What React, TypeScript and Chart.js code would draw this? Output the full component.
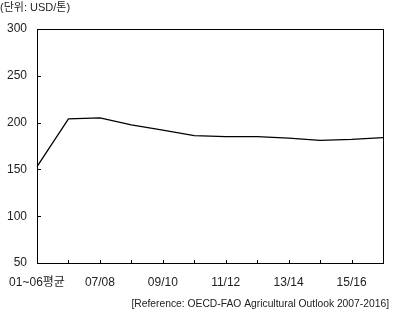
import React, { useEffect, useRef } from "react";
import { Chart, registerables } from "chart.js";

Chart.register(...registerables);

const categories = [
  "01~06평균", "06/07", "07/08", "08/09", "09/10", "10/11",
  "11/12", "12/13", "13/14", "14/15", "15/16", "16/17",
];
const priceValues = [153, 204, 205, 197.5, 192, 186, 185, 185, 183.5, 181, 182, 184];
const yTicks = [50, 100, 150, 200, 250, 300];
const unitLabel = "(단위: USD/톤)";
const sourceLabel = "[Reference: OECD-FAO Agricultural Outlook 2007-2016]";

const FONT = "'Liberation Sans', 'Noto Sans CJK KR', sans-serif";

export default function App() {
  const ref = useRef<HTMLCanvasElement | null>(null);

  useEffect(() => {
    if (!ref.current) return;
    const framePlugin = {
      id: "frame",
      afterDraw(chart: any) {
        const { ctx, chartArea } = chart;
        const { left, right, top, bottom } = chartArea;
        ctx.save();
        ctx.strokeStyle = "#000";
        ctx.lineWidth = 1;
        ctx.strokeRect(Math.round(left) + 0.5, Math.round(top) + 0.5, Math.round(right - left), Math.round(bottom - top));
        const xs = chart.scales.x;
        ctx.beginPath();
        for (let i = 0; i < xs.ticks.length; i++) {
          const px = Math.round(xs.getPixelForTick(i)) + 0.5;
          ctx.moveTo(px, bottom);
          ctx.lineTo(px, bottom - 3);
        }
        const ys = chart.scales.y;
        for (let i = 0; i < ys.ticks.length; i++) {
          const py = Math.round(ys.getPixelForTick(i)) + 0.5;
          ctx.moveTo(left, py);
          ctx.lineTo(left + 4, py);
        }
        ctx.stroke();
        ctx.fillStyle = "#222";
        ctx.font = `11px ${FONT}`;
        ctx.textBaseline = "middle";
        ctx.textAlign = "left";
        ctx.fillText(unitLabel, 0, 8);
        ctx.textAlign = "right";
        ctx.font = `10.3px ${FONT}`;
        ctx.fillText(sourceLabel, 389, 304);
        ctx.restore();
      },
    };
    const chart = new Chart(ref.current, {
      type: "line",
      data: {
        labels: categories,
        datasets: [
          {
            data: priceValues,
            borderColor: "#000",
            borderWidth: 1.3,
            pointRadius: 0,
            tension: 0,
            fill: false,
          },
        ],
      },
      options: {
        animation: false,
        responsive: false,
        layout: { padding: { left: 0, top: 29, right: 10, bottom: 0 } },
        plugins: { legend: { display: false }, tooltip: { enabled: false } },
        scales: {
          x: {
            offset: false,
            grid: { display: false, drawTicks: false },
            border: { display: false },
            ticks: {
              autoSkip: false,
              maxRotation: 0,
              padding: 12,
              color: "#222",
              font: { family: FONT, size: 12 },
              callback: (_v: any, i: number) => (i % 2 === 0 ? categories[i] : ""),
            },
            afterFit: (s: any) => {
              s.height = 50;
              s.paddingLeft = 0;
              s.paddingRight = 0;
            },
          },
          y: {
            min: 50,
            max: 300,
            afterBuildTicks: (s: any) => {
              s.ticks = yTicks.map((v) => ({ value: v }));
            },
            grid: { display: false, drawTicks: false },
            border: { display: false },
            ticks: {
              padding: 10,
              color: "#222",
              font: { family: FONT, size: 12 },
            },
            afterFit: (s: any) => {
              s.width = 37;
              s.paddingTop = 0;
              s.paddingBottom = 0;
            },
          },
        },
      },
      plugins: [framePlugin],
    });
    return () => chart.destroy();
  }, []);

  return (
    <div style={{ position: "fixed", left: 0, top: 0, width: 393, height: 313, background: "#fff" }}>
      <canvas ref={ref} width={393} height={313} />
    </div>
  );
}
